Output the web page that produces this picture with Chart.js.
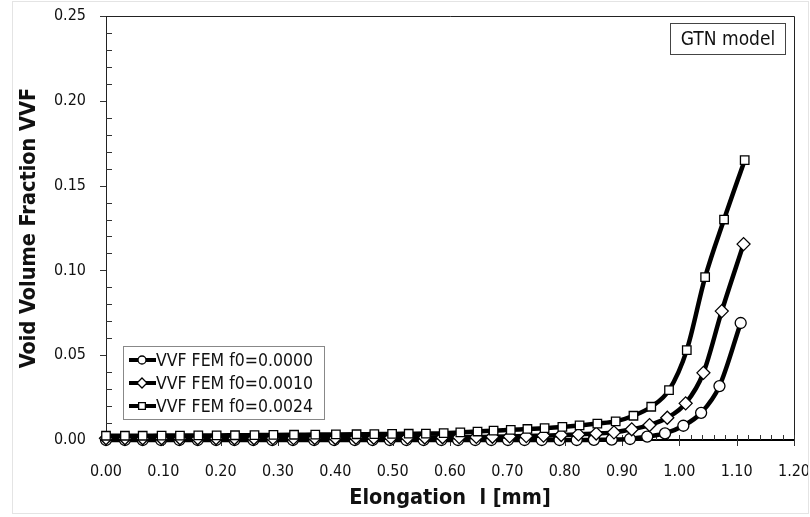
<!DOCTYPE html>
<html>
<head>
<meta charset="utf-8">
<script src="https://cdn.jsdelivr.net/npm/chart.js@4.4.0/dist/chart.umd.min.js"></script>
<style>
  html, body { margin: 0; padding: 0; background: #fff; }
  #wrap { width: 810px; height: 517px; }
</style>
</head>
<body>
<div id="wrap"><canvas id="chart" width="810" height="517"></canvas></div>
<script>
// elongation values (mm) for each series
const xF0000 = [0.000, 0.033, 0.064, 0.096, 0.128, 0.160, 0.192, 0.224, 0.257, 0.290, 0.326, 0.363, 0.398, 0.434, 0.465, 0.495, 0.524, 0.554, 0.585, 0.614, 0.644, 0.672, 0.701, 0.730, 0.760, 0.791, 0.821, 0.851, 0.882, 0.914, 0.944, 0.975, 1.007, 1.038, 1.070, 1.107];
const xF0010 = [0.000, 0.033, 0.064, 0.097, 0.129, 0.160, 0.192, 0.224, 0.258, 0.291, 0.327, 0.364, 0.400, 0.436, 0.467, 0.497, 0.526, 0.556, 0.587, 0.616, 0.646, 0.674, 0.704, 0.733, 0.763, 0.794, 0.824, 0.855, 0.886, 0.917, 0.948, 0.979, 1.011, 1.042, 1.074, 1.112];
const xF0024 = [0.000, 0.033, 0.064, 0.097, 0.129, 0.161, 0.193, 0.225, 0.259, 0.292, 0.328, 0.365, 0.401, 0.437, 0.468, 0.499, 0.528, 0.558, 0.589, 0.618, 0.648, 0.676, 0.706, 0.735, 0.765, 0.796, 0.826, 0.857, 0.889, 0.920, 0.951, 0.982, 1.013, 1.045, 1.078, 1.114];

// void volume fraction
const vvfF0000 = [0.0000, 0.0000, 0.0000, 0.0000, 0.0000, 0.0000, 0.0000, 0.0000, 0.0000, 0.0000, 0.0000, 0.0000, 0.0000, 0.0000, 0.0000, 0.0000, 0.0000, 0.0000, 0.0000, 0.0000, 0.0000, 0.0000, 0.0000, 0.0000, 0.0000, 0.0000, 0.0000, 0.0001, 0.0002, 0.0006, 0.0020, 0.0039, 0.0084, 0.0160, 0.0318, 0.0690];
const vvfF0010 = [0.0010, 0.0010, 0.0010, 0.0010, 0.0010, 0.0010, 0.0010, 0.0010, 0.0010, 0.0011, 0.0011, 0.0012, 0.0012, 0.0013, 0.0013, 0.0014, 0.0014, 0.0015, 0.0016, 0.0017, 0.0018, 0.0019, 0.0021, 0.0023, 0.0026, 0.0029, 0.0033, 0.0038, 0.0045, 0.0063, 0.0088, 0.0131, 0.0216, 0.0396, 0.0760, 0.1155];
const vvfF0024 = [0.0025, 0.0025, 0.0025, 0.0026, 0.0026, 0.0027, 0.0027, 0.0028, 0.0029, 0.0030, 0.0031, 0.0032, 0.0033, 0.0034, 0.0035, 0.0036, 0.0037, 0.0038, 0.0040, 0.0045, 0.0050, 0.0055, 0.0060, 0.0065, 0.0070, 0.0077, 0.0086, 0.0097, 0.0110, 0.0143, 0.0196, 0.0294, 0.0530, 0.0960, 0.1300, 0.1650];

const seriesNames = ['VVF FEM f0=0.0000', 'VVF FEM f0=0.0010', 'VVF FEM f0=0.0024'];
const seriesMarkers = ['circle', 'rectRot', 'rect'];
const boxLabel = 'GTN model';

const FONT = "'DejaVu Sans Condensed', 'DejaVu Sans', sans-serif";

function toPoints(xs, ys) {
  return xs.map((x, i) => ({ x: x, y: ys[i] }));
}

const markerRadius = { circle: 5.5, rectRot: 6.5, rect: 6 };

function makeSet(i, xs, ys) {
  const m = seriesMarkers[i];
  return {
    label: seriesNames[i],
    data: toPoints(xs, ys),
    showLine: true,
    borderColor: '#000',
    borderWidth: 4.5,
    cubicInterpolationMode: 'monotone',
    pointStyle: m,
    pointRadius: markerRadius[m],
    pointBackgroundColor: '#fff',
    pointBorderColor: '#000',
    pointBorderWidth: 1.3,
    clip: false,
    order: 2 - i
  };
}

// frame, minor ticks, legend box and label box
const decorPlugin = {
  id: 'decor',
  beforeDatasetsDraw(chart) {
    const ctx = chart.ctx;
    const a = chart.chartArea;
    const xs = chart.scales.x, ys = chart.scales.y;
    ctx.save();

    // outer faint border
    ctx.strokeStyle = '#e4e4e4';
    ctx.lineWidth = 1;
    ctx.strokeRect(12.5, 1.5, 796, 512);

    // top and right frame
    ctx.strokeStyle = '#222';
    ctx.lineWidth = 1;
    ctx.beginPath();
    ctx.moveTo(a.left, a.top + 0.5);
    ctx.lineTo(a.right + 0.5, a.top + 0.5);
    ctx.lineTo(a.right + 0.5, a.bottom);
    ctx.stroke();

    // y ticks
    ctx.strokeStyle = '#333';
    for (let k = 0; k <= 25; k++) {
      const py = Math.round(ys.getPixelForValue(k / 100)) + 0.5;
      ctx.beginPath();
      if (k % 5 === 0) {
        ctx.moveTo(a.left - 6, py); ctx.lineTo(a.left, py);
      } else {
        ctx.moveTo(a.left, py); ctx.lineTo(a.left + 6, py);
      }
      ctx.stroke();
    }
    // x ticks
    for (let k = 0; k <= 60; k++) {
      const px = Math.round(xs.getPixelForValue(k / 50)) + 0.5;
      ctx.beginPath();
      if (k % 5 === 0) {
        ctx.moveTo(px, a.bottom - 5); ctx.lineTo(px, a.bottom + 6);
      } else {
        ctx.moveTo(px, a.bottom - 5); ctx.lineTo(px, a.bottom);
      }
      ctx.stroke();
    }
    ctx.restore();
  },
  afterDraw(chart) {
    const ctx = chart.ctx;
    ctx.save();

    // legend
    const lx = 123, ly = 346, lw = 201, lh = 73;
    ctx.fillStyle = '#fff';
    ctx.fillRect(lx, ly, lw, lh);
    ctx.strokeStyle = '#888';
    ctx.lineWidth = 1;
    ctx.strokeRect(lx + 0.5, ly + 0.5, lw, lh);
    ctx.font = '17.5px ' + FONT;
    ctx.textBaseline = 'middle';
    ctx.textAlign = 'left';
    chart.data.datasets.forEach((ds, i) => {
      const cy = 360 + i * 23;
      ctx.strokeStyle = '#000';
      ctx.lineWidth = 4;
      ctx.beginPath();
      ctx.moveTo(129, cy); ctx.lineTo(156, cy);
      ctx.stroke();
      ctx.fillStyle = '#fff';
      ctx.strokeStyle = '#000';
      ctx.lineWidth = 1.3;
      const r = ds.pointRadius - 1.5;
      ctx.beginPath();
      if (ds.pointStyle === 'circle') {
        ctx.arc(142, cy, r, 0, Math.PI * 2);
      } else if (ds.pointStyle === 'rectRot') {
        ctx.moveTo(142, cy - r); ctx.lineTo(142 + r, cy); ctx.lineTo(142, cy + r); ctx.lineTo(142 - r, cy); ctx.closePath();
      } else {
        ctx.rect(142 - r * 0.75, cy - r * 0.75, r * 1.5, r * 1.5);
      }
      ctx.fill();
      ctx.stroke();
      ctx.fillStyle = '#111';
      ctx.fillText(ds.label, 156, cy + 1);
    });

    // GTN model box
    ctx.fillStyle = '#fff';
    ctx.fillRect(670, 23, 116, 31);
    ctx.strokeStyle = '#444';
    ctx.lineWidth = 1;
    ctx.strokeRect(670.5, 23.5, 115, 31);
    ctx.fillStyle = '#111';
    ctx.font = '19px ' + FONT;
    ctx.textAlign = 'center';
    ctx.fillText(boxLabel, 728, 40);

    ctx.restore();
  }
};

new Chart(document.getElementById('chart'), {
  type: 'scatter',
  data: {
    datasets: [
      makeSet(0, xF0000, vvfF0000),
      makeSet(1, xF0010, vvfF0010),
      makeSet(2, xF0024, vvfF0024)
    ]
  },
  options: {
    responsive: false,
    animation: false,
    layout: { padding: { left: 0, right: 16, top: 16, bottom: 0 } },
    plugins: {
      legend: { display: false },
      tooltip: { enabled: false }
    },
    scales: {
      x: {
        type: 'linear',
        min: 0,
        max: 1.2,
        afterFit(s) {
          s.height = 77;
          s.paddingLeft = 0;
          s.paddingRight = 0;
        },
        grid: { display: false, drawTicks: false },
        border: { display: true, color: '#000', width: 2 },
        ticks: {
          stepSize: 0.1,
          padding: 22,
          color: '#111',
          font: { family: FONT, size: 16 },
          callback: v => v.toFixed(2)
        },
        title: {
          display: true,
          text: 'Elongation  l [mm]',
          color: '#111',
          font: { family: FONT, size: 21.5, weight: 'bold' },
          padding: { bottom: 6 }
        }
      },
      y: {
        type: 'linear',
        min: 0,
        max: 0.25,
        afterFit(s) {
          s.width = 106;
          s.paddingTop = 0;
          s.paddingBottom = 0;
        },
        grid: { display: false, drawTicks: false },
        border: { display: true, color: '#222', width: 1 },
        ticks: {
          stepSize: 0.05,
          padding: 20,
          color: '#111',
          font: { family: FONT, size: 16 },
          callback: v => v.toFixed(2)
        },
        title: {
          display: true,
          text: 'Void Volume Fraction VVF',
          color: '#111',
          font: { family: FONT, size: 21.5, weight: 'bold' },
          padding: { top: 17 }
        }
      }
    }
  },
  plugins: [decorPlugin]
});
</script>
</body>
</html>
